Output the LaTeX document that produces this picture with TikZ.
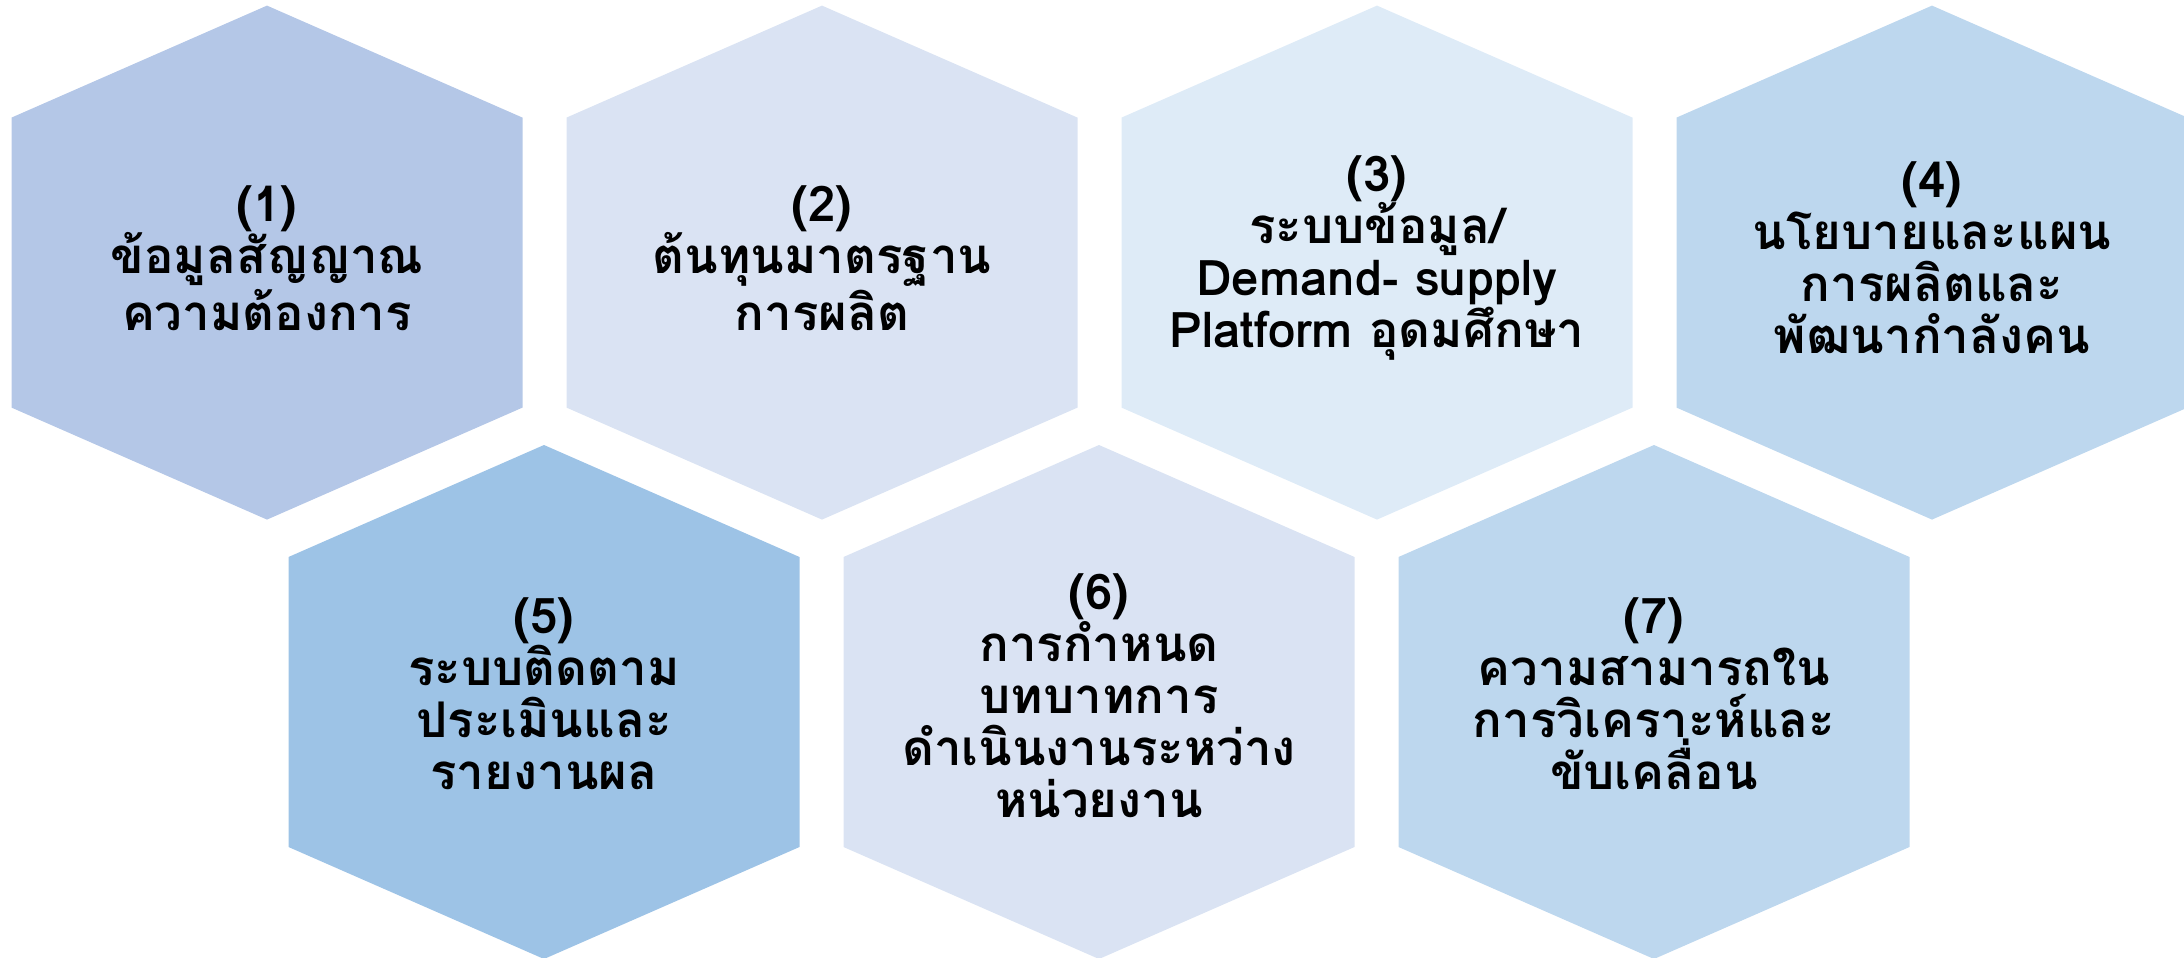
\documentclass[tikz,border=0pt]{standalone}
\usepackage{fontspec}
\newfontfamily\thaifont[Script=Thai]{Loma}
\usepackage{tikz}
\definecolor{hexa}{HTML}{B4C7E7}
\definecolor{hexb}{HTML}{DAE3F3}
\definecolor{hexc}{HTML}{DEEBF7}
\definecolor{hexd}{HTML}{BDD7EE}
\definecolor{hexe}{HTML}{9DC3E6}
\newcommand{\hexcell}[1]% center
{(#1) ++(0,2.57) -- ++(2.555,-1.12) -- ++(0,-2.9) -- ++(-2.555,-1.12)
 -- ++(-2.555,1.12) -- ++(0,2.9) -- cycle
}
\tikzset{hextext/.style={align=center, font=\thaifont\bfseries\fontsize{14}{14.8}\selectfont}}

\begin{document}
\begin{tikzpicture}
	\useasboundingbox (0,0) rectangle (21.84,9.57);
	\fill[hexa] \hexcell{2.67,6.944};%1
	\fill[hexb] \hexcell{8.22,6.944};%2
	\fill[hexc] \hexcell{13.77,6.944};%3
	\fill[hexd] \hexcell{19.32,6.944};%4
	\fill[hexe] \hexcell{5.44,2.55};%5
	\fill[hexb] \hexcell{10.99,2.55};%6
	\fill[hexd] \hexcell{16.54,2.55};%7
	\node[hextext] (t1) at (2.67,6.99){(1)\\ข้อมูลสัญญาณ\\ความต้องการ};
	\node[hextext] (t2) at (8.22,6.99){(2)\\ต้นทุนมาตรฐาน\\การผลิต};
	\node[hextext] (t3) at (13.77,6.99){(3)\\ระบบข้อมูล/\\Demand- supply\\Platform อุดมศึกษา};
	\node[hextext] (t4) at (19.32,6.99){(4)\\นโยบายและแผน\\การผลิตและ\\พัฒนากำลังคน};
	\node[hextext] (t5) at (5.44,2.63){(5)\\ระบบติดตาม\\ประเมินและ\\รายงานผล};
	\node[hextext] (t6) at (10.99,2.61){(6)\\การกำหนด\\บทบาทการ\\ดำเนินงานระหว่าง\\หน่วยงาน};
	\node[hextext] (t7) at (16.54,2.63){(7)\\ความสามารถใน\\การวิเคราะห์และ\\ขับเคลื่อน};
\end{tikzpicture}
\end{document}
